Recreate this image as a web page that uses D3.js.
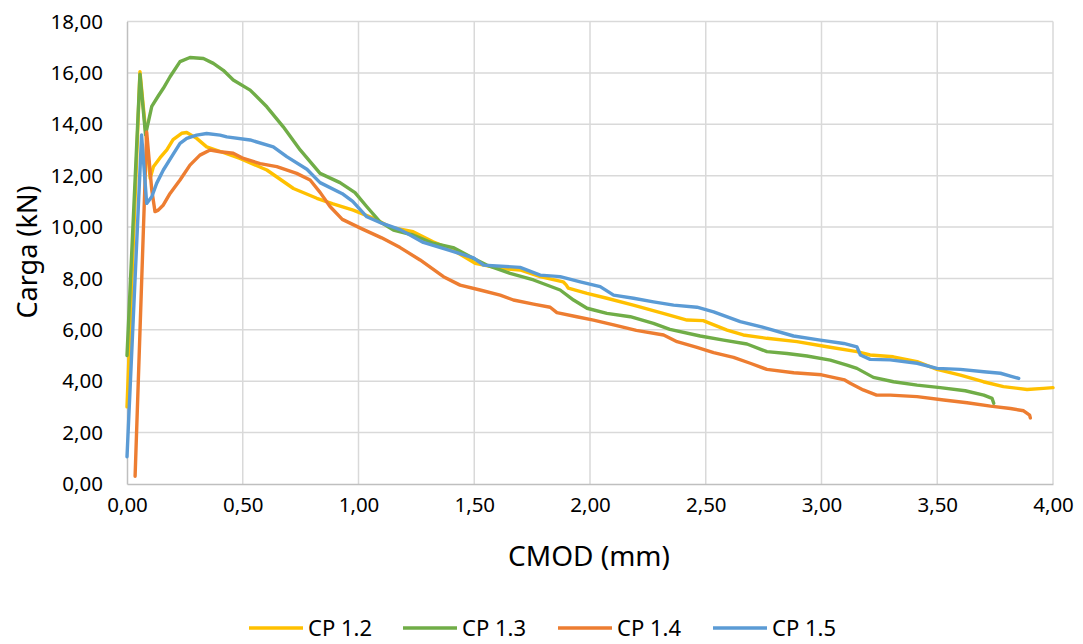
<!DOCTYPE html>
<html>
<head>
<meta charset="utf-8">
<script src="https://cdn.jsdelivr.net/npm/d3@7"></script>
<style>
  html, body { margin: 0; padding: 0; background: #fff; }
  svg { display: block; font-family: "Noto Sans", "Open Sans", sans-serif; }
</style>
</head>
<body>
<svg id="chart" width="1083" height="644"></svg>
<script>
// ---- data (CMOD mm, Carga kN) ----
const seriesNames = ["CP 1.2", "CP 1.3", "CP 1.4", "CP 1.5"];
const seriesColors = ["#FFC000", "#70AD47", "#ED7D31", "#5B9BD5"];
const xTicks = [0, 0.5, 1, 1.5, 2, 2.5, 3, 3.5, 4];
const yTicks = [0, 2, 4, 6, 8, 10, 12, 14, 16, 18];

const cp12 = [[0,3.0],[0.056,16.05],[0.1,11.9],[0.114,12.35],[0.143,12.7],[0.172,13.0],[0.199,13.4],[0.236,13.65],[0.258,13.68],[0.301,13.45],[0.344,13.12],[0.40,12.95],[0.488,12.67],[0.604,12.22],[0.719,11.5],[0.82,11.12],[0.89,10.9],[0.977,10.66],[1.063,10.35],[1.137,10.0],[1.236,9.82],[1.322,9.43],[1.409,9.1],[1.504,8.59],[1.612,8.39],[1.698,8.33],[1.785,8.07],[1.884,7.87],[1.897,7.75],[1.906,7.62],[1.987,7.42],[2.073,7.23],[2.187,6.96],[2.316,6.64],[2.419,6.38],[2.489,6.36],[2.592,5.99],[2.662,5.8],[2.764,5.67],[2.894,5.54],[3.024,5.34],[3.153,5.15],[3.21,5.02],[3.31,4.95],[3.413,4.76],[3.499,4.46],[3.6,4.24],[3.699,3.98],[3.786,3.79],[3.888,3.68],[3.959,3.72],[4.0,3.75]];

const cp13 = [[0,5.0],[0.056,15.95],[0.08,13.6],[0.107,14.7],[0.135,15.1],[0.157,15.4],[0.186,15.85],[0.229,16.44],[0.272,16.6],[0.33,16.56],[0.373,16.37],[0.416,16.1],[0.459,15.72],[0.532,15.33],[0.604,14.68],[0.675,13.9],[0.748,13.0],[0.834,12.09],[0.92,11.73],[0.985,11.34],[1.036,10.79],[1.093,10.2],[1.151,9.88],[1.236,9.69],[1.322,9.37],[1.409,9.2],[1.497,8.78],[1.554,8.52],[1.655,8.2],[1.756,7.94],[1.871,7.55],[1.929,7.16],[1.987,6.84],[2.073,6.64],[2.174,6.51],[2.274,6.25],[2.345,6.02],[2.476,5.76],[2.577,5.6],[2.678,5.45],[2.764,5.15],[2.851,5.08],[2.937,4.98],[3.038,4.82],[3.11,4.63],[3.153,4.5],[3.224,4.15],[3.311,3.98],[3.413,3.85],[3.513,3.75],[3.621,3.63],[3.701,3.46],[3.737,3.33],[3.744,3.14]];

const cp14 = [[0.035,0.3],[0.085,13.7],[0.107,11.44],[0.121,10.6],[0.135,10.66],[0.157,10.86],[0.186,11.31],[0.229,11.83],[0.272,12.41],[0.315,12.8],[0.359,13.0],[0.402,12.93],[0.459,12.87],[0.503,12.67],[0.575,12.47],[0.647,12.35],[0.733,12.09],[0.791,11.83],[0.834,11.35],[0.877,10.8],[0.93,10.3],[1.015,9.93],[1.1,9.58],[1.18,9.2],[1.266,8.72],[1.367,8.07],[1.439,7.74],[1.525,7.55],[1.612,7.35],[1.669,7.16],[1.756,7.0],[1.828,6.88],[1.857,6.67],[1.943,6.51],[2.015,6.38],[2.102,6.19],[2.2,5.98],[2.318,5.8],[2.376,5.54],[2.462,5.32],[2.534,5.11],[2.62,4.93],[2.692,4.7],[2.764,4.46],[2.88,4.33],[3.0,4.25],[3.1,4.05],[3.124,3.92],[3.18,3.66],[3.238,3.46],[3.297,3.46],[3.413,3.4],[3.528,3.27],[3.629,3.16],[3.73,3.03],[3.816,2.94],[3.873,2.85],[3.899,2.68],[3.902,2.57]];

const cp15 = [[0,1.06],[0.063,13.58],[0.085,10.92],[0.107,11.18],[0.128,11.7],[0.157,12.22],[0.193,12.74],[0.229,13.26],[0.258,13.45],[0.301,13.58],[0.344,13.64],[0.402,13.58],[0.431,13.51],[0.532,13.39],[0.632,13.12],[0.69,12.74],[0.777,12.25],[0.834,11.73],[0.93,11.3],[0.975,11.0],[1.036,10.4],[1.1,10.15],[1.18,9.9],[1.28,9.4],[1.39,9.1],[1.497,8.8],[1.54,8.52],[1.698,8.43],[1.785,8.13],[1.871,8.07],[1.958,7.87],[2.044,7.68],[2.102,7.35],[2.188,7.23],[2.274,7.09],[2.361,6.96],[2.462,6.88],[2.534,6.7],[2.649,6.32],[2.764,6.06],[2.879,5.76],[2.995,5.6],[3.096,5.47],[3.153,5.34],[3.168,5.02],[3.21,4.85],[3.297,4.83],[3.413,4.7],[3.499,4.5],[3.6,4.46],[3.701,4.37],[3.773,4.31],[3.816,4.2],[3.852,4.11]];

const allSeries = [cp12, cp13, cp14, cp15];

// ---- layout ----
const svg = d3.select("#chart");
const plot = { left: 127, right: 1053, top: 21.5, bottom: 484 };

const x = d3.scaleLinear().domain([0, 4]).range([plot.left, plot.right]);
const y = d3.scaleLinear().domain([0, 18]).range([plot.bottom, plot.top]);
const fmt = d => d.toFixed(2).replace(".", ",");

// gridlines
svg.append("g").selectAll("line.h").data(yTicks.filter(t => t > 0)).join("line")
  .attr("x1", plot.left).attr("x2", plot.right)
  .attr("y1", d => y(d)).attr("y2", d => y(d))
  .attr("stroke", "#d9d9d9").attr("stroke-width", 1.5);
svg.append("g").selectAll("line.v").data(xTicks.filter(t => t > 0)).join("line")
  .attr("x1", d => x(d)).attr("x2", d => x(d))
  .attr("y1", plot.top).attr("y2", plot.bottom)
  .attr("stroke", "#d9d9d9").attr("stroke-width", 1.5);

// axes
const xAxis = svg.append("g").attr("transform", `translate(0,${plot.bottom})`)
  .call(d3.axisBottom(x).tickValues(xTicks).tickFormat(fmt).tickSize(0).tickPadding(13));
const yAxis = svg.append("g").attr("transform", `translate(${plot.left},0)`)
  .call(d3.axisLeft(y).tickValues(yTicks).tickFormat(fmt).tickSize(0).tickPadding(24));
[xAxis, yAxis].forEach(a => {
  a.select(".domain").attr("stroke", "#bfbfbf").attr("stroke-width", 1.5);
  a.selectAll("text").attr("font-size", 20.5).attr("fill", "#000")
    .attr("font-family", "'Noto Sans', 'Open Sans', sans-serif");
});

// lines
const line = d3.line().x(d => x(d[0])).y(d => y(d[1]));
svg.append("g").selectAll("path").data(allSeries).join("path")
  .attr("d", line)
  .attr("fill", "none")
  .attr("stroke", (d, i) => seriesColors[i])
  .attr("stroke-width", 3.4)
  .attr("stroke-linejoin", "round")
  .attr("stroke-linecap", "round");

// axis titles
svg.append("text").attr("x", 589).attr("y", 566)
  .attr("text-anchor", "middle").attr("font-size", 28).attr("fill", "#000")
  .text("CMOD (mm)");
svg.append("text").attr("transform", "translate(37,252) rotate(-90)")
  .attr("text-anchor", "middle").attr("font-size", 27).attr("fill", "#000")
  .text("Carga (kN)");

// legend
const legendX = [249, 403, 558, 713];
const leg = svg.append("g").selectAll("g").data(seriesNames).join("g")
  .attr("transform", (d, i) => `translate(${legendX[i]},628)`);
leg.append("line").attr("x1", 0).attr("x2", 54).attr("y1", 0).attr("y2", 0)
  .attr("stroke", (d, i) => seriesColors[i]).attr("stroke-width", 3.4);
leg.append("text").attr("x", 59).attr("y", 8)
  .attr("font-size", 22).attr("fill", "#000").text(d => d);
</script>
</body>
</html>
